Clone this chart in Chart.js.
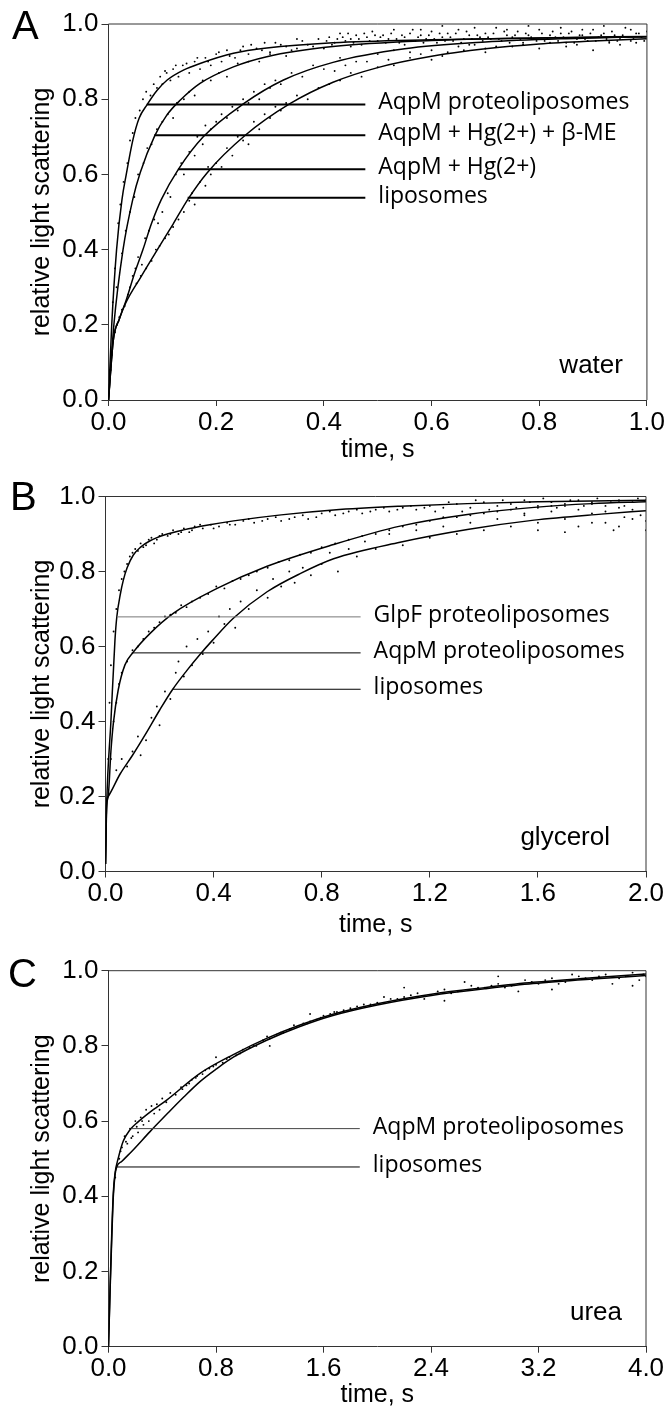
<!DOCTYPE html>
<html><head><meta charset="utf-8">
<script src="https://cdn.jsdelivr.net/npm/chart.js@4"></script>
<style>
html,body{margin:0;padding:0;background:#fff;}
#wrap{position:relative;width:666px;height:1410px;overflow:hidden;}
.pan{position:absolute;left:0;width:666px;height:470px;}
canvas{display:block;}
</style></head><body>
<div id="wrap">
<div class="pan" style="top:0px"><canvas id="cA" width="666" height="470"></canvas></div>
<div class="pan" style="top:470px"><canvas id="cB" width="666" height="470"></canvas></div>
<div class="pan" style="top:940px"><canvas id="cC" width="666" height="470"></canvas></div>
</div>
<script>
// ---------- tick labels ----------
const yTickLabels = ['0.0','0.2','0.4','0.6','0.8','1.0'];
const xTickLabelsA = ['0.0','0.2','0.4','0.6','0.8','1.0'];
const xTickLabelsB = ['0.0','0.4','0.8','1.2','1.6','2.0'];
const xTickLabelsC = ['0.0','0.8','1.6','2.4','3.2','4.0'];

// ---------- panel A (water) ----------
const namesA = ['AqpM proteoliposomes','AqpM + Hg(2+) + \u03B2-ME','AqpM + Hg(2+)','liposomes'];
const fitA_aqpm = [[0,0],[0.006,0.2],[0.015,0.4],[0.025,0.533],[0.033,0.6],[0.045,0.69],[0.057,0.75],[0.072,0.786],[0.09,0.823],[0.109,0.851],[0.14,0.878],[0.17,0.895],[0.232,0.922],[0.294,0.936],[0.417,0.95],[0.6,0.958],[0.8,0.963],[1.0,0.966]];
const fitA_hgme = [[0,0],[0.01,0.2],[0.027,0.4],[0.045,0.533],[0.059,0.605],[0.086,0.703],[0.108,0.757],[0.133,0.797],[0.17,0.842],[0.232,0.886],[0.294,0.913],[0.417,0.94],[0.6,0.956],[0.8,0.963],[1.0,0.967]];
const fitA_hg = [[0,0],[0.009,0.16],[0.02,0.215],[0.032,0.262],[0.048,0.335],[0.064,0.4],[0.08,0.47],[0.098,0.533],[0.13,0.614],[0.176,0.70],[0.251,0.788],[0.325,0.851],[0.417,0.898],[0.55,0.934],[0.7,0.952],[0.85,0.961],[1.0,0.966]];
const fitA_lipo = [[0,0],[0.009,0.16],[0.02,0.215],[0.032,0.258],[0.06,0.327],[0.09,0.398],[0.12,0.468],[0.148,0.535],[0.183,0.604],[0.254,0.704],[0.337,0.788],[0.417,0.845],[0.5,0.884],[0.6,0.914],[0.7,0.934],[0.8,0.947],[0.9,0.955],[1.0,0.961]];
const levelsA = [0.786,0.704,0.614,0.538];
const startsA = [0.071,0.085,0.129,0.147];
const labelEndA = 0.477;
const dotsA = [
[0.008,0.26],[0.012,0.35],[0.018,0.47],[0.022,0.52],[0.028,0.58],[0.035,0.63],[0.04,0.69],[0.045,0.71],[0.05,0.75],[0.058,0.77],[0.064,0.80],[0.07,0.82],[0.078,0.81],[0.084,0.84],[0.09,0.83],[0.096,0.86],[0.1,0.84],[0.108,0.87],[0.115,0.85],[0.12,0.88],[0.13,0.86],[0.138,0.89],[0.15,0.87],[0.16,0.9],[0.17,0.88],[0.18,0.91],[0.19,0.89],[0.2,0.92],[0.21,0.9],[0.22,0.93],[0.235,0.91],[0.25,0.94],[0.26,0.92],[0.275,0.935],[0.29,0.95],[0.3,0.925],[0.32,0.945],[0.34,0.93],[0.36,0.955],[0.38,0.94],
[0.015,0.3],[0.025,0.39],[0.032,0.45],[0.04,0.5],[0.048,0.54],[0.055,0.6],[0.065,0.63],[0.072,0.67],[0.08,0.68],[0.09,0.72],[0.1,0.74],[0.11,0.76],[0.12,0.75],[0.127,0.79],[0.14,0.8],[0.15,0.82],[0.16,0.81],[0.175,0.85],[0.19,0.85],[0.205,0.87],[0.22,0.86],[0.24,0.895],[0.26,0.9],[0.28,0.9],[0.3,0.92],[0.33,0.915],[0.35,0.935],[0.4,0.935],
[0.004,0.08],[0.006,0.12],[0.012,0.18],[0.016,0.2],[0.02,0.22],[0.025,0.24],[0.03,0.25],[0.036,0.28],[0.04,0.3],[0.045,0.33],[0.05,0.35],[0.052,0.31],[0.055,0.38],[0.06,0.33],[0.062,0.36],[0.068,0.43],[0.07,0.35],[0.075,0.45],[0.08,0.37],[0.085,0.48],[0.088,0.4],[0.092,0.47],[0.095,0.41],[0.1,0.5],[0.105,0.43],[0.11,0.55],[0.112,0.44],[0.115,0.54],[0.12,0.46],[0.125,0.6],[0.13,0.48],
[0.135,0.63],[0.14,0.6],[0.15,0.66],[0.16,0.65],[0.165,0.7],[0.175,0.68],[0.18,0.73],[0.19,0.72],[0.2,0.74],[0.21,0.76],[0.22,0.75],[0.23,0.78],[0.24,0.77],[0.25,0.8],[0.26,0.79],[0.27,0.82],[0.28,0.8],[0.29,0.84],[0.3,0.83],[0.31,0.85],[0.32,0.84],[0.34,0.87],[0.36,0.86],[0.38,0.89],[0.4,0.88],[0.43,0.91],[0.46,0.9],[0.5,0.92],[0.53,0.93],[0.56,0.925],
[0.14,0.5],[0.15,0.53],[0.155,0.55],[0.16,0.52],[0.17,0.58],[0.18,0.57],[0.185,0.62],[0.19,0.6],[0.2,0.63],[0.21,0.62],[0.22,0.67],[0.23,0.65],[0.24,0.7],[0.25,0.69],[0.26,0.68],[0.27,0.74],[0.28,0.72],[0.29,0.76],[0.3,0.75],[0.31,0.78],[0.32,0.77],[0.33,0.79],[0.35,0.81],[0.37,0.8],[0.39,0.83],[0.41,0.84],[0.43,0.85],[0.45,0.87],[0.47,0.86],[0.5,0.885],[0.53,0.89],[0.56,0.91],[0.6,0.905],[0.63,0.925],[0.66,0.93],[0.7,0.935],
[0.41,0.965],[0.42,0.95],[0.43,0.975],[0.44,0.955],[0.45,0.96],[0.46,0.97],[0.47,0.945],[0.48,0.965],[0.49,0.98],[0.5,0.955],[0.51,0.97],[0.52,0.96],[0.53,0.985],[0.54,0.95],[0.55,0.965],[0.56,0.975],[0.57,0.955],[0.58,0.97],[0.59,0.96],[0.6,0.98],[0.61,0.95],[0.62,0.965],[0.63,0.975],[0.64,0.955],[0.65,0.985],[0.66,0.96],[0.67,0.97],[0.68,0.945],[0.69,0.965],[0.7,0.975],[0.71,0.96],[0.72,0.99],[0.73,0.955],[0.74,0.97],[0.75,0.965],[0.76,0.98],[0.77,0.95],[0.78,0.97],[0.79,0.96],[0.8,0.985],[0.81,0.955],[0.82,0.97],[0.83,0.965],[0.84,0.975],[0.85,0.95],[0.86,0.98],[0.87,0.96],[0.88,0.97],[0.89,0.955],[0.9,0.985],[0.91,0.965],[0.92,0.975],[0.93,0.95],[0.94,0.97],[0.95,0.96],[0.96,0.99],[0.97,0.955],[0.98,0.975],[0.99,0.965],[1.0,0.98],
[0.6,0.93],[0.65,0.94],[0.7,0.925],[0.75,0.94],[0.8,0.935],[0.85,0.94],[0.9,0.93],[0.95,0.945],[0.62,0.995],[0.78,0.995],[0.92,0.995],[0.45,0.94],[0.55,0.945],[0.58,0.985],[0.68,0.99],[0.74,0.985],[0.84,0.99],[0.88,0.985],[0.97,0.985],
[0.405,0.955],[0.415,0.945],[0.425,0.96],[0.435,0.965],[0.445,0.975],[0.455,0.95],[0.465,0.96],[0.475,0.975],[0.485,0.955],[0.495,0.97],[0.505,0.965],[0.515,0.95],[0.525,0.975],[0.535,0.96],[0.545,0.97],[0.555,0.955],[0.565,0.985],[0.575,0.965],[0.585,0.95],[0.595,0.97],[0.605,0.96],[0.615,0.975],[0.625,0.955],[0.635,0.965],[0.645,0.975],[0.655,0.95],[0.665,0.98],[0.675,0.96],[0.685,0.97],[0.695,0.955],[0.705,0.965],[0.715,0.975],[0.725,0.96],[0.735,0.98],[0.745,0.95],[0.755,0.97],[0.765,0.96],[0.775,0.975],[0.785,0.965],[0.795,0.955],[0.805,0.975],[0.815,0.96],[0.825,0.98],[0.835,0.955],[0.845,0.965],[0.855,0.975],[0.865,0.95],[0.875,0.97],[0.885,0.96],[0.895,0.975],[0.905,0.955],[0.915,0.97],[0.925,0.96],[0.935,0.98],[0.945,0.955],[0.955,0.97],[0.965,0.965],[0.975,0.96],[0.985,0.975],[0.995,0.955],
[0.105,0.875],[0.125,0.89],[0.145,0.895],[0.165,0.91],[0.185,0.9],[0.205,0.925],[0.225,0.915],[0.245,0.93],[0.265,0.945],[0.285,0.93],[0.31,0.95],[0.33,0.94],[0.35,0.96],[0.37,0.945],[0.39,0.96],
[0.42,0.875],[0.44,0.89],[0.48,0.9],[0.52,0.905],[0.58,0.92],[0.62,0.915],[0.67,0.945],[0.72,0.94],[0.77,0.945],[0.82,0.95],[0.87,0.945],[0.93,0.955],[0.98,0.95]
];

// ---------- panel B (glycerol) ----------
const namesB = ['GlpF proteoliposomes','AqpM proteoliposomes','liposomes'];
const fitB_glpf = [[0,0.02],[0.004,0.17],[0.02,0.4],[0.035,0.617],[0.042,0.68],[0.055,0.74],[0.066,0.777],[0.08,0.81],[0.103,0.844],[0.13,0.865],[0.165,0.882],[0.22,0.898],[0.289,0.911],[0.38,0.924],[0.474,0.935],[0.65,0.951],[0.844,0.964],[1.09,0.974],[1.339,0.981],[1.6,0.986],[2.0,0.99]];
const fitB_aqpm = [[0,0.02],[0.004,0.17],[0.01,0.2],[0.02,0.32],[0.029,0.395],[0.047,0.484],[0.072,0.551],[0.103,0.585],[0.165,0.635],[0.252,0.689],[0.413,0.755],[0.598,0.814],[0.844,0.872],[1.09,0.921],[1.339,0.952],[1.586,0.971],[1.8,0.981],[2.0,0.986]];
const fitB_lipo = [[0,0.02],[0.004,0.18],[0.01,0.2],[0.054,0.26],[0.1,0.31],[0.147,0.365],[0.2,0.43],[0.247,0.484],[0.3,0.535],[0.351,0.58],[0.394,0.615],[0.474,0.676],[0.598,0.746],[0.722,0.795],[0.844,0.834],[1.09,0.878],[1.339,0.912],[1.586,0.937],[1.834,0.953],[2.0,0.962]];
const levelsB = [0.679,0.583,0.486];
const startsB = [0.042,0.097,0.25];
const labelEndB = 0.944;
const dotsB = [
[0.01,0.3],[0.015,0.45],[0.02,0.55],[0.03,0.64],[0.04,0.7],[0.05,0.75],[0.06,0.78],[0.07,0.8],[0.08,0.82],[0.09,0.84],[0.1,0.85],
[0.11,0.86],[0.13,0.875],[0.15,0.87],[0.17,0.89],[0.19,0.885],[0.21,0.9],[0.23,0.895],[0.25,0.91],[0.27,0.9],[0.29,0.915],[0.31,0.905],[0.33,0.92],[0.36,0.915],[0.39,0.925],[0.42,0.92],[0.45,0.93],[0.48,0.925],[0.51,0.935],[0.55,0.93],[0.6,0.94],[0.65,0.935],[0.7,0.945],[0.75,0.94],[0.8,0.955],[0.85,0.95],[0.9,0.96],[0.95,0.955],[1.0,0.965],[1.05,0.96],[1.1,0.97],[1.15,0.965],[1.2,0.975],[1.25,0.97],[1.3,0.98],[1.35,0.97],[1.4,0.985],[1.45,0.975],[1.5,0.98],[1.55,0.99],[1.6,0.975],[1.65,0.985],[1.7,0.98],[1.75,0.99],[1.8,0.985],[1.85,0.975],[1.9,0.99],[1.95,0.985],[2.0,0.99],
[0.12,0.855],[0.14,0.865],[0.16,0.885],[0.18,0.875],[0.2,0.895],[0.24,0.9],[0.28,0.905],[0.32,0.91],[0.35,0.925],[0.4,0.915],[0.46,0.925],[0.53,0.94],[0.58,0.935],[0.63,0.945],[0.68,0.94],[0.73,0.95],[0.78,0.945],[0.83,0.96],[0.88,0.955],[0.93,0.965],[0.98,0.96],[1.03,0.97],[1.08,0.965],[1.13,0.975],[1.18,0.97],
[0.02,0.3],[0.03,0.4],[0.04,0.45],[0.05,0.5],[0.06,0.53],[0.08,0.56],[0.1,0.59],[0.12,0.6],[0.14,0.62],[0.16,0.64],[0.18,0.65],[0.2,0.665],[0.22,0.68],[0.24,0.685],[0.26,0.69],[0.28,0.71],[0.3,0.705],[0.32,0.72],[0.35,0.73],[0.38,0.74],[0.41,0.76],[0.44,0.755],[0.47,0.775],[0.5,0.78],[0.53,0.79],[0.56,0.8],[0.6,0.81],[0.64,0.825],[0.68,0.83],[0.72,0.845],[0.76,0.85],[0.8,0.865],[0.85,0.875],[0.9,0.885],[0.95,0.895],[1.0,0.9],[1.05,0.91],[1.1,0.92],[1.15,0.925],[1.2,0.935],[1.3,0.945],[1.4,0.955],[1.5,0.965],[1.6,0.97],[1.7,0.975],[1.8,0.98],[1.9,0.985],
[0.04,0.27],[0.06,0.3],[0.08,0.28],[0.1,0.32],[0.12,0.36],[0.13,0.31],[0.15,0.35],[0.17,0.41],[0.19,0.44],[0.2,0.39],[0.22,0.48],[0.24,0.46],[0.26,0.53],[0.27,0.56],[0.29,0.52],[0.3,0.6],[0.32,0.55],[0.34,0.62],[0.36,0.58],[0.38,0.64],[0.4,0.61],[0.42,0.68],[0.44,0.66],[0.46,0.7],[0.48,0.65],[0.5,0.72],[0.53,0.7],[0.56,0.75],[0.6,0.73],[0.62,0.78],[0.65,0.76],[0.68,0.8],[0.7,0.77],[0.73,0.81],[0.76,0.79],[0.8,0.82],[0.83,0.85],[0.86,0.8],[0.9,0.86],[0.93,0.84],[0.96,0.88],[1.0,0.86],[1.05,0.9],[1.1,0.87],[1.15,0.91],[1.2,0.89],[1.25,0.92],[1.3,0.9],[1.35,0.93],[1.4,0.91],[1.45,0.94],[1.5,0.92],[1.55,0.95],[1.6,0.93],[1.65,0.96],[1.7,0.94],[1.75,0.92],[1.8,0.955],[1.85,0.93],[1.9,0.97],[1.95,0.94],[2.0,0.91],[1.98,0.95],[1.88,0.91],
[1.22,0.96],[1.27,0.985],[1.32,0.96],[1.37,0.99],[1.42,0.965],[1.47,0.99],[1.52,0.97],[1.57,0.985],[1.62,0.995],[1.67,0.97],[1.72,0.99],[1.77,0.975],[1.82,0.995],[1.87,0.985],[1.92,0.975],[1.97,0.995],[1.25,0.945],[1.35,0.95],[1.45,0.96],[1.55,0.955],[1.65,0.975],[1.75,0.965],[1.85,0.96],[1.95,0.965],[1.6,0.91],[1.7,0.905],[1.8,0.93],[1.9,0.92],[2.0,0.935],[1.92,0.945]
];

// ---------- panel C (urea) ----------
const namesC = ['AqpM proteoliposomes','liposomes'];
const fitC_aqpm = [[0,0],[0.012,0.16],[0.024,0.3],[0.036,0.41],[0.048,0.46],[0.073,0.502],[0.11,0.547],[0.16,0.577],[0.22,0.598],[0.309,0.624],[0.433,0.656],[0.681,0.727],[0.929,0.777],[1.177,0.82],[1.42,0.855],[1.67,0.884],[2.0,0.912],[2.415,0.938],[2.8,0.955],[3.16,0.969],[3.6,0.981],[4.0,0.991]];
const fitC_lipo = [[0,0],[0.012,0.15],[0.024,0.285],[0.036,0.4],[0.048,0.455],[0.061,0.478],[0.1,0.493],[0.185,0.524],[0.309,0.572],[0.433,0.618],[0.56,0.664],[0.681,0.705],[0.8,0.738],[0.929,0.77],[1.177,0.815],[1.42,0.851],[1.67,0.881],[2.0,0.909],[2.415,0.935],[2.8,0.952],[3.16,0.966],[3.6,0.978],[4.0,0.987]];
const levelsC = [0.58,0.478];
const startsC = [0.17,0.061];
const labelEndC = 1.87;
const dotsC = [
[0.05,0.45],[0.08,0.5],[0.1,0.53],[0.12,0.56],[0.14,0.54],[0.16,0.58],[0.18,0.56],[0.2,0.6],[0.22,0.57],[0.24,0.61],[0.26,0.59],[0.28,0.63],[0.3,0.6],[0.32,0.64],[0.34,0.62],[0.36,0.645],[0.38,0.63],[0.4,0.66],[0.43,0.65],[0.46,0.675],[0.5,0.67],[0.54,0.69],[0.58,0.695],[0.62,0.71],[0.66,0.72],[0.7,0.725],[0.75,0.74],[0.8,0.75],[0.85,0.755],[0.9,0.77],[0.95,0.775],[1.0,0.79],[1.05,0.795],[1.1,0.8],[1.15,0.815],[1.2,0.82],[1.25,0.83],[1.3,0.835],[1.35,0.845],[1.4,0.85],[1.45,0.86],[1.5,0.865],[1.55,0.87],[1.6,0.88],[1.65,0.885],[1.7,0.89],[1.8,0.9],[1.9,0.91],[2.0,0.915],[2.1,0.925],[2.2,0.93],[2.3,0.94],[2.4,0.935],[2.5,0.95],[2.6,0.945],[2.7,0.96],[2.8,0.955],[2.9,0.965],[3.0,0.96],[3.1,0.975],[3.2,0.965],[3.3,0.98],[3.4,0.97],[3.5,0.985],[3.6,0.975],[3.7,0.99],[3.8,0.98],[3.9,0.995],[4.0,0.985],
[2.2,0.955],[2.5,0.92],[2.9,0.985],[3.3,0.95],[3.6,1.0],[3.9,0.96],[1.5,0.885],[1.2,0.8],[0.8,0.77],[2.05,0.93],[2.35,0.925],[2.65,0.97],[3.05,0.945],[3.45,0.99],[3.75,0.965],[3.95,0.975],
[0.55,0.685],[0.6,0.7],[0.65,0.715],[0.72,0.735],[0.78,0.745],[0.88,0.765],[0.98,0.78],[1.08,0.8],[1.18,0.825],[1.28,0.835],[1.38,0.855],[1.48,0.86],[1.58,0.875],[1.68,0.89],[1.75,0.895],[1.85,0.905],[1.95,0.91],[2.15,0.925],[2.25,0.935],[2.45,0.945],[2.55,0.94],[2.75,0.955],[2.85,0.96],[2.95,0.955],[3.15,0.97],[3.25,0.975],[3.35,0.965],[3.55,0.98],[3.65,0.985],[3.85,0.985],[3.98,0.99],
[0.09,0.52],[0.13,0.545],[0.17,0.555],[0.21,0.585],[0.25,0.6]
];

// ---------- drawing ----------
const TICK_FONT = "'Liberation Sans Narrow', 'Liberation Sans', Arial, sans-serif";
const TEXT_FONT = "'Liberation Sans', Arial, sans-serif";

const decor = {
  id: 'decor',
  afterDatasetsDraw(chart, args, o) {
    const {ctx, chartArea: a, scales: {x, y}} = chart;
    ctx.save();
    ctx.strokeStyle = '#333';
    ctx.lineWidth = 1;
    ctx.beginPath();
    ctx.moveTo(a.left, a.top); ctx.lineTo(a.right, a.top); ctx.lineTo(a.right, a.bottom);
    ctx.stroke();
    ctx.fillStyle = '#000';
    ctx.font = "23px 'Open Sans', sans-serif";
    ctx.textAlign = 'left';
    ctx.textBaseline = 'alphabetic';
    o.names.forEach((n, i) => {
      ctx.fillText(n, x.getPixelForValue(o.labelEnd) + 13, y.getPixelForValue(o.levels[i]) + 5);
    });
    ctx.font = "26px " + TEXT_FONT;
    ctx.textAlign = 'right';
    ctx.fillText(o.solvent, a.right - o.solventDX, a.bottom - 27);
    ctx.font = "40px " + TEXT_FONT;
    ctx.textAlign = 'left';
    ctx.fillText(o.letter, o.letterX, o.letterY);
    ctx.restore();
  }
};

function pts(arr) { return arr.map(p => ({x: p[0], y: p[1]})); }

function makePanel(id, c) {
  const ds = [];
  c.levels.forEach((lv, i) => ds.push({
    type: 'line', data: [{x: c.starts[i], y: lv}, {x: c.labelEnd, y: lv}],
    borderColor: c.lineColors[i], borderWidth: c.lineWidths[i], pointRadius: 0, tension: 0
  }));
  c.fits.forEach(f => ds.push({
    type: 'line', data: pts(f), borderColor: '#000', borderWidth: 1.5,
    pointRadius: 0, cubicInterpolationMode: 'monotone', fill: false
  }));
  ds.push({
    type: 'scatter', data: pts(c.dots), pointRadius: 0.95, pointStyle: 'circle',
    backgroundColor: '#000', borderWidth: 0, pointHoverRadius: 0
  });
  const xVals = c.xLabels.map(Number);
  const yVals = yTickLabels.map(Number);
  new Chart(document.getElementById(id), {
    type: 'scatter',
    data: {datasets: ds},
    plugins: [decor],
    options: {
      responsive: false, animation: false, events: [],
      layout: {padding: {left: 0, right: 666 - c.right, top: c.top, bottom: 0}},
      plugins: {
        legend: {display: false}, tooltip: {enabled: false},
        decor: {names: c.names, levels: c.levels, labelEnd: c.labelEnd, solvent: c.solvent,
                solventDX: c.solventDX, letter: c.letter, letterX: c.letterX, letterY: c.letterY}
      },
      scales: {
        x: {
          type: 'linear', min: 0, max: xVals[xVals.length - 1],
          afterBuildTicks: s => { s.ticks = xVals.map(v => ({value: v})); },
          afterFit: s => { s.height = 470 - c.bottom; },
          ticks: {callback: (v, i) => c.xLabels[i], font: {family: TICK_FONT, size: 26}, color: '#000',
                  padding: 1, maxRotation: 0, autoSkip: false},
          grid: {drawOnChartArea: false, drawTicks: true, tickLength: 6, color: '#333', lineWidth: 1},
          border: {display: true, color: '#333', width: 1},
          title: {display: true, text: 'time, s', color: '#000', font: {family: TEXT_FONT, size: 25},
                  padding: {top: 0, bottom: c.xTitlePad}}
        },
        y: {
          type: 'linear', min: 0, max: 1,
          afterBuildTicks: s => { s.ticks = yVals.map(v => ({value: v})); },
          afterFit: s => { s.width = c.left; },
          ticks: {callback: (v, i) => yTickLabels[i], font: {family: TICK_FONT, size: 26}, color: '#000',
                  padding: 3, autoSkip: false},
          grid: {drawOnChartArea: false, drawTicks: true, tickLength: 7, color: '#333', lineWidth: 1},
          border: {display: true, color: '#333', width: 1},
          title: {display: true, text: 'relative light scattering', color: '#000',
                  font: {family: TEXT_FONT, size: 25}, padding: {top: 27, bottom: 0}}
        }
      }
    }
  });
}

makePanel('cA', {
  names: namesA, fits: [fitA_aqpm, fitA_hgme, fitA_hg, fitA_lipo], dots: dotsA,
  levels: levelsA, starts: startsA, labelEnd: labelEndA,
  lineColors: ['#000','#000','#000','#000'], lineWidths: [2,2,2,2],
  xLabels: xTickLabelsA, solvent: 'water', solventDX: 24,
  letter: 'A', letterX: 12, letterY: 39,
  left: 108.5, right: 648, top: 24, bottom: 400, xTitlePad: 5
});
makePanel('cB', {
  names: namesB, fits: [fitB_glpf, fitB_aqpm, fitB_lipo], dots: dotsB,
  levels: levelsB, starts: startsB, labelEnd: labelEndB,
  lineColors: ['#777','#000','#000'], lineWidths: [1,1,1],
  xLabels: xTickLabelsB, solvent: 'glycerol', solventDX: 36,
  letter: 'B', letterX: 10, letterY: 40,
  left: 105.5, right: 646, top: 26.5, bottom: 401.5, xTitlePad: 0
});
makePanel('cC', {
  names: namesC, fits: [fitC_aqpm, fitC_lipo], dots: dotsC,
  levels: levelsC, starts: startsC, labelEnd: labelEndC,
  lineColors: ['#444','#000'], lineWidths: [1,1],
  xLabels: xTickLabelsC, solvent: 'urea', solventDX: 24,
  letter: 'C', letterX: 8, letterY: 47,
  left: 108.5, right: 646, top: 30.7, bottom: 406.7, xTitlePad: 0
});
</script>
</body></html>
